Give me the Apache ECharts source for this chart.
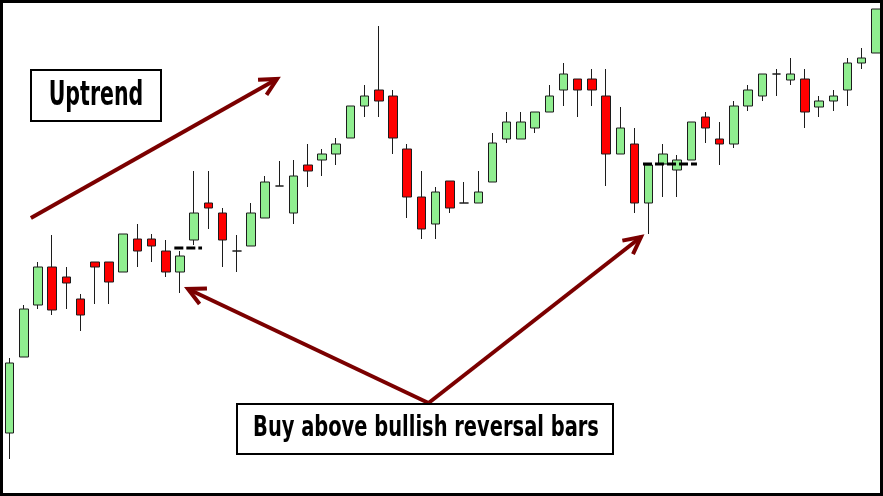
<!DOCTYPE html>
<html><head><meta charset="utf-8">
<script src="https://cdn.jsdelivr.net/npm/echarts@6/dist/echarts.min.js"></script>
<style>html,body{margin:0;padding:0;background:#fff}#c{width:883px;height:496px}</style>
</head><body><div id="c"></div>
<script>
const categories = [1,2,3,4,5,6,7,8,9,10,11,12,13,14,15,16,17,18,19,20,21,22,23,24,25,26,27,28,29,30,31,32,33,34,35,36,37,38,39,40,41,42,43,44,45,46,47,48,49,50,51,52,53,54,55,56,57,58,59,60,61,62];
const opens  = [67,143,195,233,223,201,238,238,228,261,261,249,228,260,297,287,249,254,282,314,287,335,340,346,362,394,410,404,351,303,276,319,297,297,318,361,361,372,388,410,421,421,404,346,356,297,336,330,340,383,361,356,394,404,426,420,421,393,399,410,437,447];
const closes = [137,191,233,190,217,185,233,218,266,249,254,228,244,287,292,260,249,287,318,314,324,329,346,356,394,404,399,362,303,271,308,292,297,308,357,378,378,388,404,426,410,410,346,372,297,335,346,340,378,372,356,394,410,426,426,426,388,399,404,437,442,491];
const lows   = [41,143,191,185,191,169,196,196,228,233,238,223,207,255,271,233,228,254,282,314,276,313,324,335,362,383,383,346,282,261,261,287,297,297,318,357,361,367,388,394,383,394,314,346,287,266,303,303,340,357,335,352,389,399,404,415,372,383,389,394,431,447];
const highs  = [142,195,238,265,233,206,238,238,266,276,266,260,249,329,329,292,265,297,324,339,340,356,351,362,394,415,474,410,356,329,313,319,318,329,367,388,388,388,415,437,421,431,431,393,372,335,356,345,378,388,378,399,415,426,431,442,431,404,410,442,452,491];
// dashed "buy above" levels: [level, fromIndex, toIndex]
const buyLevels = [[252, 11.6, 13.55], [336, 44.6, 48.4]];
// annotation anchors in data space [index, price]
const arrowUptrend = {from: [1.5, 282], to: [18.83, 421]};
const arrowStart = [29.5, 97];
const arrowTips = [[12.56, 211], [44.46, 263]];
const labelUptrend = 'Uptrend';
const labelBuy = 'Buy above bullish reversal bars';

const candleData = opens.map((o, i) => [o, closes[i], lows[i], highs[i]]);
const chart = echarts.init(document.getElementById('c'), null, {renderer: 'canvas'});
const series = [{
  type: 'candlestick',
  data: candleData,
  barWidth: 9,
  itemStyle: {color: '#90ee90', color0: '#ff0000', borderColor: '#1c1c1c', borderColor0: '#1c1c1c', borderColorDoji: '#1c1c1c', borderWidth: 1}
}];
buyLevels.forEach(l => series.push({
  type: 'line', xAxisIndex: 1, yAxisIndex: 0, symbol: 'none', silent: true,
  data: [[l[1], l[0]], [l[2], l[0]]],
  lineStyle: {color: '#000', width: 3, type: [9, 3]}
}));
chart.setOption({
  animation: false,
  backgroundColor: '#fff',
  grid: {left: 2.5, right: 0, top: 0, bottom: 0},
  xAxis: [
    {type: 'category', data: categories, boundaryGap: true, show: false},
    {type: 'value', min: -0.5, max: 61.5, show: false}
  ],
  yAxis: {type: 'value', min: 4, max: 500, show: false, splitLine: {show: false}},
  series: series
});

const px = p => chart.convertToPixel({seriesIndex: 1}, p);
const RED = '#7b0000';
function arrow(fromD, toD) {
  const a = px(fromD), b = px(toD);
  const ang = Math.atan2(a[1] - b[1], a[0] - b[0]);
  const r = 27 * Math.PI / 180, len = 19;
  const p1 = [b[0] + len * Math.cos(ang + r), b[1] + len * Math.sin(ang + r)];
  const p2 = [b[0] + len * Math.cos(ang - r), b[1] + len * Math.sin(ang - r)];
  return [
    {type: 'line', shape: {x1: a[0], y1: a[1], x2: b[0], y2: b[1]}, style: {stroke: RED, lineWidth: 4}, z: 10},
    {type: 'polyline', shape: {points: [p1, b, p2]}, style: {stroke: RED, lineWidth: 4, fill: null, lineJoin: 'miter'}, z: 10}
  ];
}
const FONT = '"Liberation Sans Narrow", "DejaVu Sans Condensed", "Roboto", sans-serif';
const ctx = document.createElement('canvas').getContext('2d');
function inkWidth(text, size) {
  ctx.font = 'bold ' + size + 'px ' + FONT;
  const m = ctx.measureText(text);
  return m.actualBoundingBoxLeft + m.actualBoundingBoxRight;
}
function label(text, cx, cy, size, targetW, box) {
  const s = targetW / inkWidth(text, size);
  return [
    {type: 'rect', shape: box, style: {fill: '#fff', stroke: '#000', lineWidth: 2}, z: 20},
    {type: 'text', x: cx, y: cy, scaleX: s, z: 21,
     style: {text: text, fontFamily: FONT, fontWeight: 'bold', fontSize: size, fill: '#000', align: 'center', verticalAlign: 'middle'}}
  ];
}
let g = [];
g = g.concat(arrow(arrowUptrend.from, arrowUptrend.to));
arrowTips.forEach(t => { g = g.concat(arrow(arrowStart, t)); });
g = g.concat(label(labelUptrend, 96, 96, 34, 92, {x: 31, y: 70, width: 130, height: 51}));
g = g.concat(label(labelBuy, 426, 428, 29, 344, {x: 237, y: 404, width: 376, height: 50}));
g.push({type: 'rect', shape: {x: 1.5, y: 1.5, width: 880, height: 493}, style: {fill: null, stroke: '#000', lineWidth: 3}, z: 30});
chart.setOption({graphic: g});
</script></body></html>
